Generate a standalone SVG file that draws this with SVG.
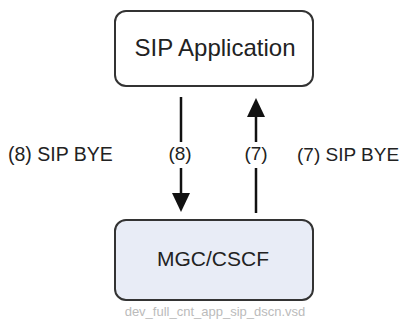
<svg xmlns="http://www.w3.org/2000/svg" width="405" height="320" viewBox="0 0 405 320">
<defs>
<style>
.box{stroke:#333;stroke-width:2}
.t{font-family:"Liberation Sans",Arial,sans-serif;fill:#222}
.ln{stroke:#111;stroke-width:2.5;fill:none}
.ah{fill:#111}
</style>
</defs>
<rect width="405" height="320" fill="#fff"/>
<g id="sip-app">
<rect class="box" x="115" y="11" width="198" height="75" rx="11" fill="#fff"/>
<text class="t" x="215" y="56" font-size="24" text-anchor="middle">SIP Application</text>
</g>
<g id="mgc-cscf">
<rect class="box" x="115" y="220" width="198" height="80" rx="11" fill="#e8ecf6"/>
<text class="t" x="213" y="266" font-size="21" text-anchor="middle">MGC/CSCF</text>
</g>
<g id="connectors">
<line class="ln" x1="181" y1="97" x2="181" y2="142"/>
<line class="ln" x1="181" y1="168" x2="181" y2="194"/>
<polygon class="ah" points="172,193 190,193 181,212"/>
<line class="ln" x1="256" y1="213" x2="256" y2="168"/>
<line class="ln" x1="256" y1="142" x2="256" y2="116"/>
<polygon class="ah" points="247,117 265,117 256,98"/>
<text class="t" x="180" y="160" font-size="19" text-anchor="middle">(8)</text>
<text class="t" x="256" y="160" font-size="19" text-anchor="middle">(7)</text>
<text class="t" x="8" y="161" font-size="19.5">(8) SIP BYE</text>
<text class="t" x="297" y="161" font-size="19">(7) SIP BYE</text>
</g>
<text x="215" y="315.5" font-family="Liberation Sans,Arial,sans-serif" font-size="13" fill="#bbb" text-anchor="middle">dev_full_cnt_app_sip_dscn.vsd</text>
</svg>
